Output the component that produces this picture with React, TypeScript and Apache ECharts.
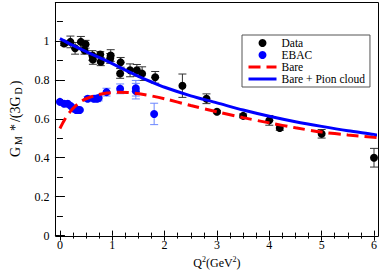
import React, { useEffect, useRef } from 'react';
import * as echarts from 'echarts';

// Experimental data (black)
const dataX = [0.08, 0.2, 0.29, 0.4, 0.49, 0.47, 0.62, 0.63, 0.77, 0.78, 0.97, 0.96, 1.16, 1.15, 1.34, 1.47, 1.57, 1.82, 2.34, 2.8, 3.0, 3.5, 4.0, 4.2, 5.0, 6.0];
const dataY = [0.987, 0.995, 0.962, 0.995, 0.983, 0.952, 0.925, 0.905, 0.93, 0.893, 0.925, 0.91, 0.89, 0.833, 0.849, 0.849, 0.832, 0.813, 0.77, 0.703, 0.636, 0.615, 0.592, 0.553, 0.523, 0.4];
const dataErr = [0.01, 0.03, 0.03, 0.028, 0.02, 0.02, 0.025, 0.025, 0.015, 0.02, 0.03, 0.025, 0.025, 0.025, 0.033, 0.03, 0.035, 0.03, 0.06, 0.025, 0.006, 0.01, 0.025, 0.012, 0.022, 0.048];

// EBAC (blue)
const ebacX = [0.0, 0.08, 0.15, 0.21, 0.26, 0.31, 0.35, 0.38, 0.53, 0.65, 0.71, 0.74, 0.89, 1.15, 1.45, 1.45, 1.8];
const ebacY = [0.687, 0.677, 0.677, 0.665, 0.653, 0.645, 0.645, 0.645, 0.703, 0.703, 0.703, 0.707, 0.737, 0.754, 0.757, 0.742, 0.625];
const ebacErr = [0.004, 0.004, 0.004, 0.004, 0.004, 0.004, 0.004, 0.004, 0.012, 0.015, 0.015, 0.015, 0.02, 0.025, 0.04, 0.04, 0.055];

// Bare (red dashed)
const bareX = [0, 0.1, 0.2, 0.3, 0.4, 0.5, 0.7, 0.9, 1.1, 1.3, 1.6, 2, 2.5, 3, 3.5, 4, 4.5, 5, 5.5, 6.1];
const bareY = [0.55, 0.6, 0.638, 0.666, 0.688, 0.703, 0.722, 0.732, 0.736, 0.735, 0.725, 0.703, 0.668, 0.636, 0.606, 0.579, 0.554, 0.532, 0.517, 0.503];

// Bare + Pion cloud (blue solid)
const cloudX = [0, 0.25, 0.5, 0.75, 1, 1.25, 1.5, 1.75, 2, 2.5, 3, 3.5, 4, 4.5, 5, 5.5, 6, 6.1];
const cloudY = [1.012, 0.977, 0.945, 0.915, 0.883, 0.85, 0.818, 0.789, 0.762, 0.718, 0.682, 0.645, 0.613, 0.585, 0.561, 0.539, 0.52, 0.515];

const legendNames = ['Data', 'EBAC', 'Bare', 'Bare + Pion cloud'];

const FONT = 'Liberation Serif';

function errRender(color: string) {
  return (params: any, api: any) => {
    const x = api.value(0);
    const y = api.value(1);
    const e = api.value(2);
    const t = api.coord([x, y + e]);
    const b = api.coord([x, y - e]);
    const hw = 4;
    const st = { stroke: color, lineWidth: 1 };
    return {
      type: 'group',
      children: [
        { type: 'line', shape: { x1: t[0], y1: t[1], x2: b[0], y2: b[1] }, style: st },
        { type: 'line', shape: { x1: t[0] - hw, y1: t[1], x2: t[0] + hw, y2: t[1] }, style: st },
        { type: 'line', shape: { x1: b[0] - hw, y1: b[1], x2: b[0] + hw, y2: b[1] }, style: st },
      ],
    };
  };
}

export default function App() {
  const ref = useRef<HTMLDivElement>(null);
  useEffect(() => {
    document.body.style.margin = '0';
    const chart = echarts.init(ref.current!, null, { renderer: 'svg' });
    const W = 382;
    const gridLeft = 42.3;
    const gridRight = 8;
    const unit = (W - gridLeft - gridRight) / 6;
    const off = unit * 0.1;

    const tickColor = '#000';
    const xAxisBase = {
      type: 'value',
      min: 0,
      max: 6,
      interval: 1,
      splitLine: { show: false },
      axisLine: { show: false },
      axisTick: { show: true, inside: true, length: 5, lineStyle: { color: tickColor } },
      minorTick: { show: true, splitNumber: 4, length: 3, lineStyle: { color: tickColor } },
    };
    const yAxisBase = {
      type: 'value',
      min: 0,
      max: 1.2,
      interval: 0.2,
      offset: off,
      splitLine: { show: false },
      axisLine: { show: false },
      axisTick: { show: true, inside: true, length: 5, lineStyle: { color: tickColor } },
      minorTick: { show: true, splitNumber: 2, length: 3, lineStyle: { color: tickColor } },
    };

    const hideSym = { opacity: 0, color: 'rgba(0,0,0,0)', borderWidth: 0 };

    const option: any = {
      animation: false,
      backgroundColor: '#fff',
      textStyle: { fontFamily: FONT },
      grid: { left: gridLeft, right: gridRight, top: 2, bottom: 33.3, containLabel: false },
      legend: {
        data: [
          { name: legendNames[0], icon: 'circle' },
          { name: legendNames[1], icon: 'circle' },
          { name: legendNames[2], itemStyle: hideSym, lineStyle: { width: 3 } },
          { name: legendNames[3], itemStyle: hideSym, lineStyle: { width: 3 } },
        ],
        orient: 'vertical',
        left: 242,
        top: 35,
        itemWidth: 28,
        itemHeight: 8,
        itemGap: 0,
        padding: [2, 5, 2, 5],
        borderColor: '#555',
        borderWidth: 1,
        borderRadius: 0,
        textStyle: { fontFamily: FONT, fontSize: 11.5, color: '#000', lineHeight: 11.5 },
      },
      xAxis: [
        {
          ...xAxisBase,
          position: 'bottom',
          axisLabel: { show: true, margin: 3, fontFamily: FONT, fontSize: 12, color: '#000' },
          name: '{a|Q}{c|2}{a|(GeV}{c|2}{a|)}',
          nameLocation: 'middle',
          nameGap: 19,
          nameTextStyle: {
            rich: {
              a: { fontFamily: FONT, fontSize: 12, color: '#000', lineHeight: 15 },
              c: { fontFamily: FONT, fontSize: 8, color: '#000', lineHeight: 8, verticalAlign: 'top' },
            },
          },
        },
        {
          ...xAxisBase,
          position: 'top',
          axisLabel: { show: false },
        },
      ],
      yAxis: [
        {
          ...yAxisBase,
          position: 'left',
          axisLabel: {
            show: true,
            margin: 5,
            fontFamily: FONT,
            fontSize: 12,
            color: '#000',
            formatter: (v: number) => (v > 1.1 ? '' : String(Math.round(v * 10) / 10)),
          },
          name: '{a|G}{b|M}{s|*}{a|/(3G}{b|D}{a|)}',
          nameLocation: 'middle',
          nameRotate: 90,
          nameGap: 22,
          nameTextStyle: {
            rich: {
              a: { fontFamily: FONT, fontSize: 14, color: '#000', lineHeight: 17, padding: [0, 1, 0, 1] },
              s: { fontFamily: FONT, fontSize: 14, color: '#000', lineHeight: 17, padding: [0, 1, 0, 4] },
              b: { fontFamily: FONT, fontSize: 10, color: '#000', lineHeight: 10, verticalAlign: 'bottom', padding: [0, 1, 0, 1] },
            },
          },
        },
        {
          ...yAxisBase,
          position: 'right',
          axisLabel: { show: false },
        },
      ],
      series: [
        {
          type: 'custom',
          name: 'dataErr',
          renderItem: errRender('#333'),
          data: dataX.map((x, i) => [x, dataY[i], dataErr[i]]),
          encode: { x: 0, y: 1 },
          z: 2,
          silent: true,
        },
        {
          type: 'custom',
          name: 'ebacErr',
          renderItem: errRender('#6b86ff'),
          data: ebacX.map((x, i) => [x, ebacY[i], ebacErr[i]]),
          encode: { x: 0, y: 1 },
          z: 2,
          silent: true,
        },
        {
          type: 'scatter',
          name: 'Data',
          data: dataX.map((x, i) => [x, dataY[i]]),
          symbol: 'circle',
          symbolSize: 8,
          itemStyle: { color: '#000', opacity: 1 },
          z: 3,
        },
        {
          type: 'scatter',
          name: 'EBAC',
          data: ebacX.map((x, i) => [x, ebacY[i]]),
          symbol: 'circle',
          symbolSize: 8,
          itemStyle: { color: '#0000ff', opacity: 1 },
          z: 3,
        },
        {
          type: 'line',
          name: 'Bare',
          data: bareX.map((x, i) => [x, bareY[i]]),
          symbol: 'none',
          showSymbol: false,
          smooth: 0.3,
          clip: false,
          lineStyle: { color: '#ff0000', width: 3, type: [12, 6] },
          itemStyle: { color: '#ff0000' },
          z: 4,
        },
        {
          type: 'line',
          name: 'Bare + Pion cloud',
          data: cloudX.map((x, i) => [x, cloudY[i]]),
          symbol: 'none',
          showSymbol: false,
          smooth: 0.3,
          clip: false,
          lineStyle: { color: '#0000ff', width: 3 },
          itemStyle: { color: '#0000ff' },
          z: 4,
        },
      ],
    };
    chart.setOption(option);

    const xl = chart.convertToPixel({ xAxisIndex: 0 }, -0.1) as number;
    const xr = chart.convertToPixel({ xAxisIndex: 0 }, 6.1) as number;
    const yb = chart.convertToPixel({ yAxisIndex: 0 }, 0) as number;
    const yt = chart.convertToPixel({ yAxisIndex: 0 }, 1.2) as number;
    const L = Math.round(xl) + 0.5;
    const R = Math.round(xr) - 0.5;
    const T = Math.round(yt) + 0.5;
    const B = Math.round(yb) + 0.5;
    chart.setOption({
      graphic: [
        {
          type: 'rect',
          shape: { x: L, y: T, width: R - L, height: B - T },
          style: { fill: 'none', stroke: '#000', lineWidth: 1 },
          z: 10,
          silent: true,
        },
      ],
    });
    return () => chart.dispose();
  }, []);
  return <div ref={ref} style={{ position: 'absolute', left: 0, top: 0, width: 382, height: 274 }} />;
}
